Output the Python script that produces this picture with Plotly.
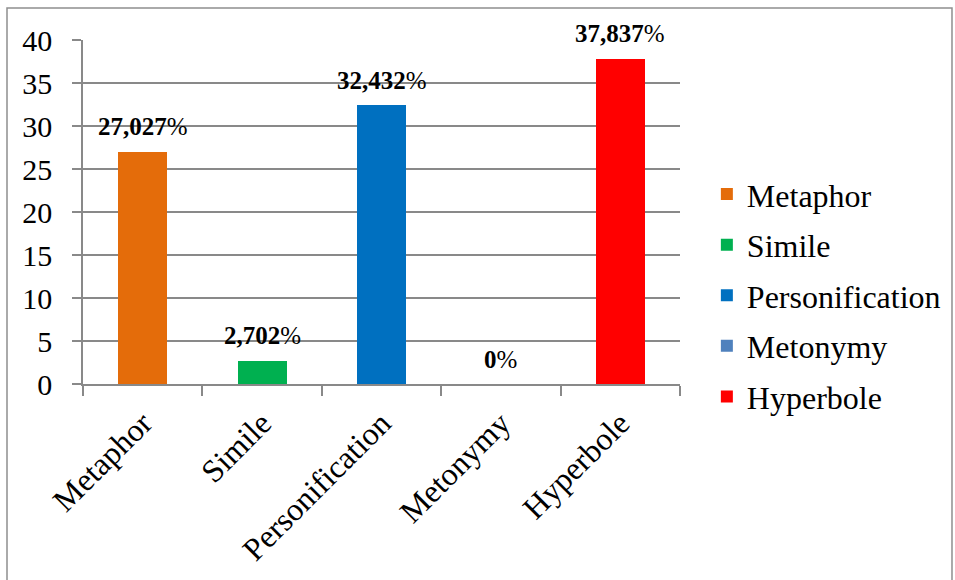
import plotly.graph_objects as go

# Figures of speech and their share (%)
categories = ["Metaphor", "Simile", "Personification", "Metonymy", "Hyperbole"]
shares = [27.027, 2.702, 32.432, 0.0, 37.837]
share_labels = ["27,027", "2,702", "32,432", "0", "37,837"]
colors = ["#E46C0A", "#00B050", "#0070C0", "#4F81BD", "#FF0000"]
y_ticks = [0, 5, 10, 15, 20, 25, 30, 35, 40]

SERIF = "Liberation Serif"
GRID = "#898989"

fig = go.Figure()
for cat, val, col in zip(categories, shares, colors):
    fig.add_trace(go.Bar(
        x=[cat], y=[val], name=cat, marker=dict(color=col, line=dict(width=0)),
        width=0.41, legendgroup=cat, hoverinfo="x+y",
    ))

for cat, val, lab in zip(categories, shares, share_labels):
    fig.add_annotation(
        x=cat, y=val, xref="x", yref="y",
        text=f"<b>{lab}</b>%", showarrow=False,
        yanchor="middle", yshift=25,
        font=dict(family=SERIF, size=25, color="black"),
    )

# outer chart frame
fig.add_shape(type="rect", xref="paper", yref="paper",
              x0=-0.1273, x1=1.4556, y0=-0.7, y1=1.093,
              line=dict(color="#8f8f8f", width=1.5), fillcolor="rgba(0,0,0,0)",
              layer="below")

fig.update_layout(
    width=955, height=580,
    margin=dict(l=83, r=275, t=40, b=196, autoexpand=False),
    paper_bgcolor="white", plot_bgcolor="white",
    barmode="overlay",
    bargap=0,
    font=dict(family=SERIF, color="black"),
    showlegend=True,
    legend=dict(
        x=1.045, y=0.258, xanchor="left", yanchor="middle",
        font=dict(family=SERIF, size=32, color="black"),
        traceorder="grouped", tracegroupgap=6,
        bgcolor="rgba(0,0,0,0)",
    ),
    xaxis=dict(
        type="category", categoryorder="array", categoryarray=categories,
        tickson="boundaries", ticks="outside", ticklen=10, tickcolor=GRID, tickwidth=1.5,
        showline=True, linecolor=GRID, linewidth=1.5,
        showgrid=False, tickangle=-45,
        ticklabelstandoff=6,
        tickfont=dict(family=SERIF, size=32, color="black"),
    ),
    yaxis=dict(
        range=[0, 40], tickvals=y_ticks, ticks="outside", ticklen=9,
        tickcolor=GRID, tickwidth=1.5,
        showline=True, linecolor=GRID, linewidth=1.5,
        showgrid=True, gridcolor=GRID, gridwidth=1.5,
        zeroline=False,
        ticklabelstandoff=14,
        tickfont=dict(family=SERIF, size=30, color="black"),
    ),
)

fig.write_html("out.html")
